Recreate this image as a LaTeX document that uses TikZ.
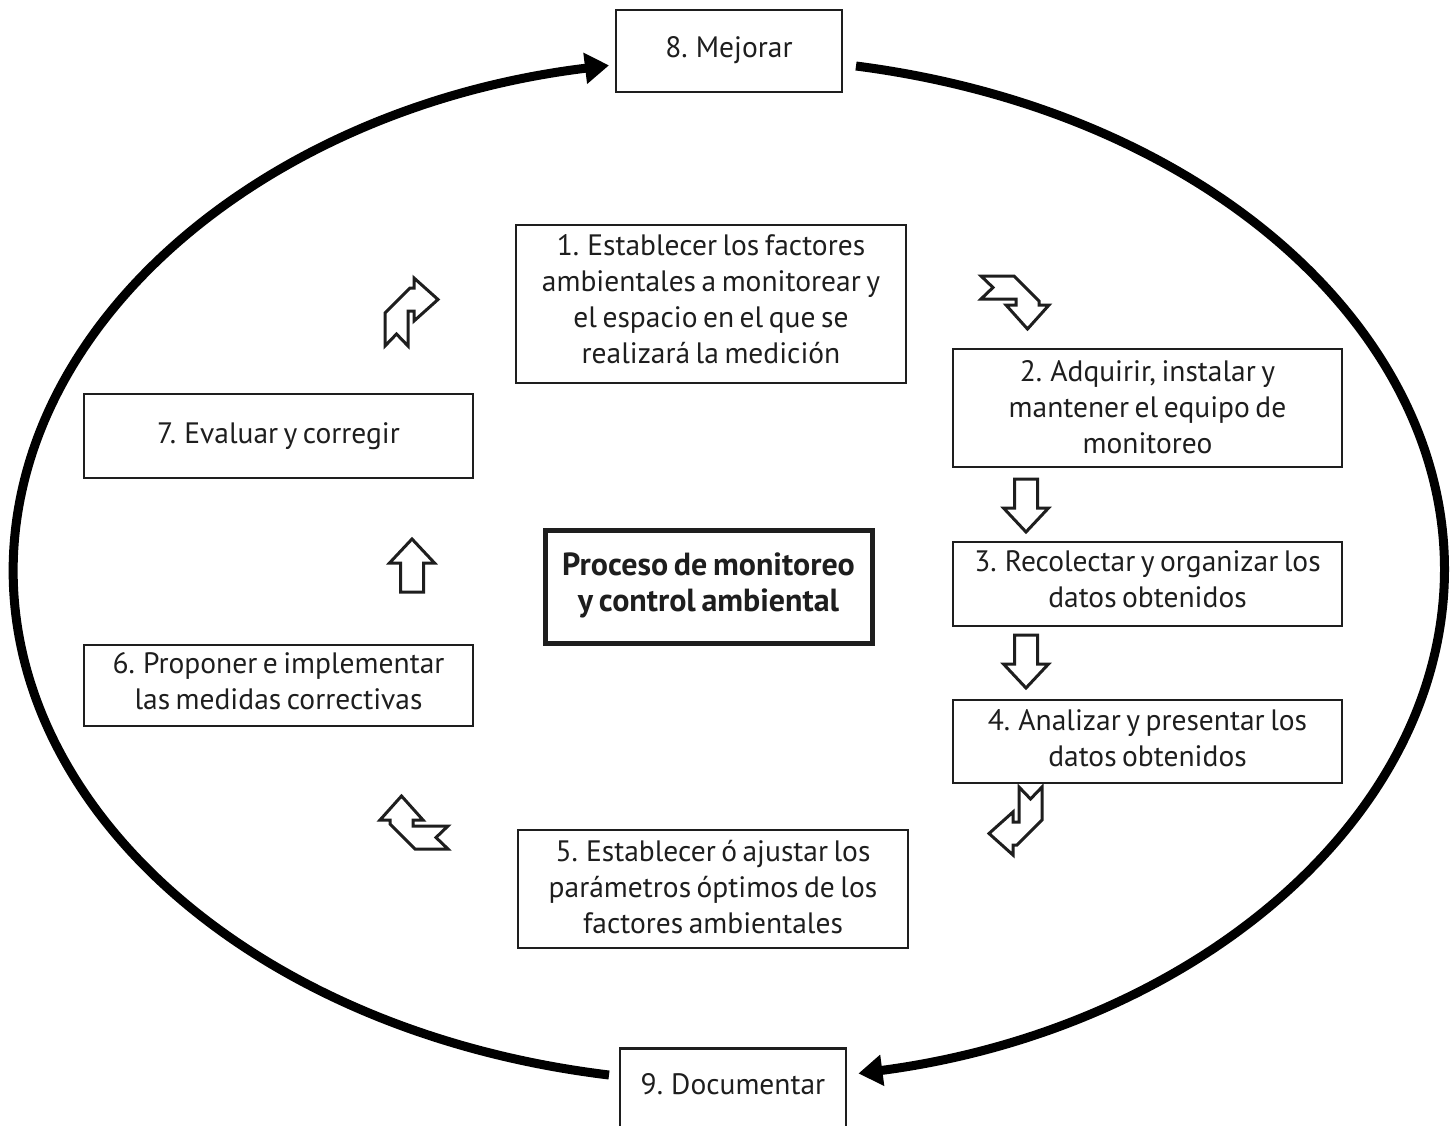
\documentclass[tikz,border=0pt]{standalone}
\usepackage{fontspec}
\setmainfont{PT Sans}[WordSpace=0.7]
\usetikzlibrary{arrows.meta}
\definecolor{ink}{HTML}{1E1E1E}
\newcommand{\up}[2]{\raisebox{#1}[\height][\depth]{\parbox{380pt}{\centering #2}}}
\begin{document}
\begin{tikzpicture}[x=1pt,y=-1pt,
  box/.style={draw=ink,line width=2.5pt,fill=white,align=center,inner sep=0pt,
    font=\fontsize{29.5}{36}\selectfont,text=ink},
  mainbox/.style={box,line width=5pt,font=\fontsize{32}{36}\selectfont\bfseries},
  ring/.style={line width=9pt,draw=black,-{Triangle[length=24pt,width=30pt]}},
  blockline/.style={draw=ink,line width=3pt,fill=white,line join=miter},
  bentarrow/.pic={\draw[blockline] (-23,35) -- (-23,2) -- (2,-23) -- (6,-23) -- (6,-33)
     -- (30,-11.5) -- (6,10) -- (6,0) -- (0,0) -- (0,35) -- (-11.5,23) -- cycle;},
  downarrow/.pic={\draw[blockline] (-11.5,-53) -- (11.5,-53) -- (11.5,-24) -- (22.5,-24)
     -- (0,0) -- (-22.5,-24) -- (-11.5,-24) -- cycle;}
]
\clip (0,0) rectangle (1453,1126);
\fill[white] (0,0) rectangle (1453,1126);

% ring arcs
\coordinate (la) at (609,1075);
\coordinate (ra) at (856,66);
\draw[ring] (la) arc[start angle=99.6,end angle=260.4,x radius=715,y radius=512];
\draw[ring] (ra) arc[start angle=-79.8,end angle=79.6,x radius=715,y radius=512];

% boxes
\node[box,minimum width=226pt,minimum height=82pt] (n8) at (729,51)
  {\raisebox{1pt}[\height][\depth]{8. Mejorar}};
\node[box,minimum width=390pt,minimum height=158pt] (n1) at (711,304)
  {\up{5pt}{1. Establecer los factores\\ambientales a monitorear y\\el espacio en el que se\\realizará la medición}};
\node[box,minimum width=389pt,minimum height=118pt] (n2) at (1147.5,408)
  {\up{1pt}{2. Adquirir, instalar y\\mantener el equipo de\\monitoreo}};
\node[box,minimum width=389pt,minimum height=84pt] (n3) at (1147.5,584)
  {\up{5pt}{3. Recolectar y organizar los\\datos obtenidos}};
\node[box,minimum width=389pt,minimum height=83pt] (n4) at (1147.5,741.5)
  {\up{3pt}{4. Analizar y presentar los\\datos obtenidos}};
\node[box,minimum width=390pt,minimum height=118pt] (n5) at (713,889)
  {\up{2pt}{5. Establecer ó ajustar los\\parámetros óptimos de los\\factores ambientales}};
\node[box,minimum width=389pt,minimum height=81pt] (n6) at (278.5,685.5)
  {\up{4pt}{6. Proponer e implementar\\las medidas correctivas}};
\node[box,minimum width=389pt,minimum height=84pt] (n7) at (278.5,436)
  {7. Evaluar y corregir};
\node[mainbox,minimum width=327pt,minimum height=113pt] (c) at (708.5,586.5)
  {\raisebox{1pt}[\height][\depth]{\parbox{320pt}{\centering Proceso de monitoreo\\y control ambiental}}};
\node[box,minimum width=226pt,minimum height=96pt,anchor=north] (n9) at (733,1047)
  {\raisebox{2pt}[\height][\depth]{\raisebox{21pt}{9. Documentar}}};

% block arrows
\pic at (408,311) {bentarrow};
\pic[rotate=-90] at (1016,299) {bentarrow};
\pic[rotate=180] at (1019,822) {bentarrow};
\pic[rotate=90] at (413,826) {bentarrow};
\pic at (1026,532) {downarrow};
\pic at (1026,688) {downarrow};
\pic[rotate=180] at (412,539) {downarrow};
\end{tikzpicture}
\end{document}
